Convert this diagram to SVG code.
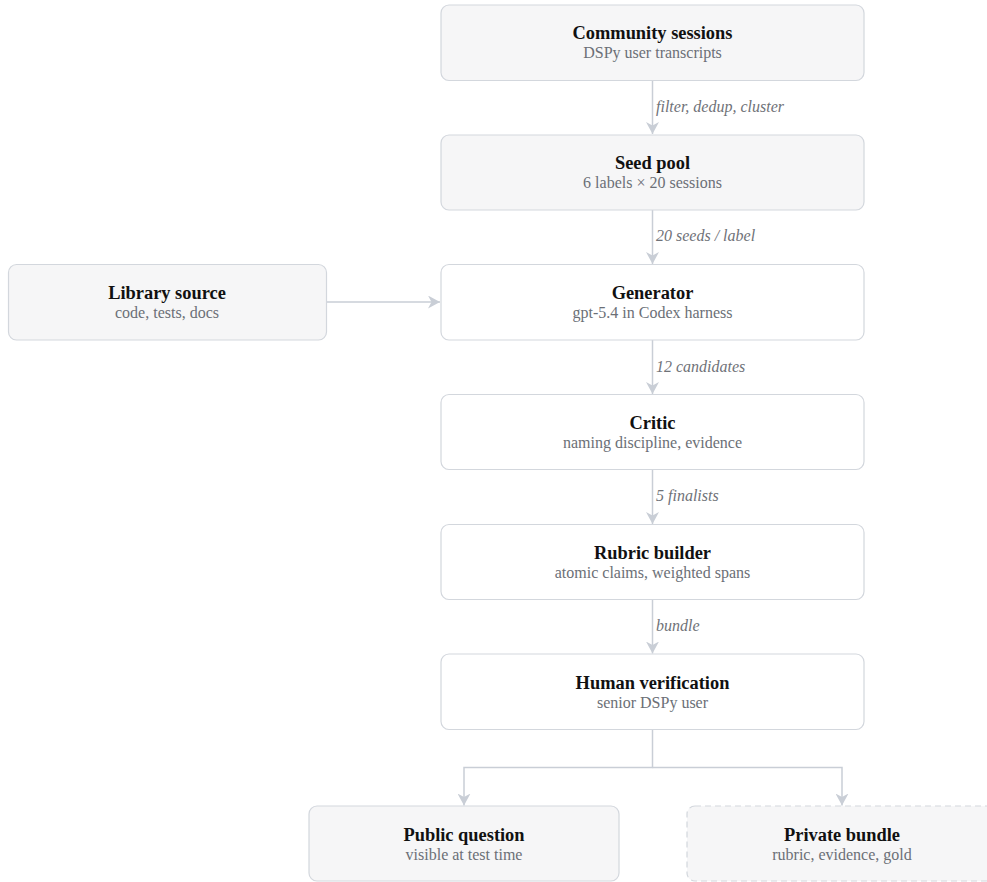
<svg xmlns="http://www.w3.org/2000/svg" width="987" height="882" viewBox="0 0 987 882">
<style>
.box{stroke:#d3d7dd;stroke-width:1.2}
.g{fill:#f6f6f7}
.w{fill:#ffffff}
.dash{stroke-dasharray:6 4}
.t{font-family:"Liberation Serif","Times New Roman",serif;font-weight:bold;font-size:18.4px;fill:#111;text-anchor:middle}
.s{font-family:"Liberation Serif","Times New Roman",serif;font-size:16px;fill:#6b6f76;text-anchor:middle}
.l{font-family:"Liberation Serif","Times New Roman",serif;font-style:italic;font-size:16px;fill:#6f7278}
.c{fill:none;stroke:#c9ced6;stroke-width:1.5}
</style>
<defs>
<marker id="ah" markerUnits="userSpaceOnUse" markerWidth="12" markerHeight="13" viewBox="0 0 12 13" refX="12" refY="6.5" orient="auto">
<path d="M0,0 L12,6.5 L0,13 L3.5,6.5 z" fill="#c9ced6"/>
</marker>
</defs>
<rect width="987" height="882" fill="#ffffff"/>
<g id="connectors">
<path class="c" d="M652.5,80.5 V134" marker-end="url(#ah)"/>
<path class="c" d="M652.5,210 V264" marker-end="url(#ah)"/>
<path class="c" d="M326,302 H440" marker-end="url(#ah)"/>
<path class="c" d="M652.5,340 V394" marker-end="url(#ah)"/>
<path class="c" d="M652.5,469.5 V524" marker-end="url(#ah)"/>
<path class="c" d="M652.5,599.5 V653.5" marker-end="url(#ah)"/>
<path class="c" d="M652.5,729.5 V767.5 H464 V805.5" marker-end="url(#ah)"/>
<path class="c" d="M652.5,767.5 H842 V805.5" marker-end="url(#ah)"/>
<text class="l" x="656" y="111.5">filter, dedup, cluster</text>
<text class="l" x="656" y="241">20 seeds / label</text>
<text class="l" x="656" y="371.5">12 candidates</text>
<text class="l" x="656" y="501">5 finalists</text>
<text class="l" x="656" y="631">bundle</text>
</g>
<g id="community">
<rect class="box g" x="441" y="5" width="423" height="75.5" rx="8"/>
<text class="t" x="652.5" y="39">Community sessions</text>
<text class="s" x="652.5" y="57.5">DSPy user transcripts</text>
</g>
<g id="seed">
<rect class="box g" x="441" y="135" width="423" height="75" rx="8"/>
<text class="t" x="652.5" y="169">Seed pool</text>
<text class="s" x="652.5" y="187.5">6 labels × 20 sessions</text>
</g>
<g id="library">
<rect class="box g" x="8.5" y="264.5" width="318" height="75.5" rx="8"/>
<text class="t" x="167" y="299">Library source</text>
<text class="s" x="167" y="317.5">code, tests, docs</text>
</g>
<g id="generator">
<rect class="box w" x="441" y="264.5" width="423" height="75.5" rx="8"/>
<text class="t" x="652.5" y="299">Generator</text>
<text class="s" x="652.5" y="317.5">gpt-5.4 in Codex harness</text>
</g>
<g id="critic">
<rect class="box w" x="441" y="394.5" width="423" height="75" rx="8"/>
<text class="t" x="652.5" y="429">Critic</text>
<text class="s" x="652.5" y="447.5">naming discipline, evidence</text>
</g>
<g id="rubric">
<rect class="box w" x="441" y="524.5" width="423" height="75" rx="8"/>
<text class="t" x="652.5" y="559">Rubric builder</text>
<text class="s" x="652.5" y="577.5">atomic claims, weighted spans</text>
</g>
<g id="human">
<rect class="box w" x="441" y="654" width="423" height="75.5" rx="8"/>
<text class="t" x="652.5" y="689">Human verification</text>
<text class="s" x="652.5" y="707.5">senior DSPy user</text>
</g>
<g id="public">
<rect class="box g" x="309" y="806" width="310" height="75" rx="8"/>
<text class="t" x="464" y="841">Public question</text>
<text class="s" x="464" y="859.5">visible at test time</text>
</g>
<g id="private">
<rect class="box g dash" x="687" y="806" width="310" height="75" rx="8"/>
<text class="t" x="842" y="841">Private bundle</text>
<text class="s" x="842" y="859.5">rubric, evidence, gold</text>
</g>
</svg>
